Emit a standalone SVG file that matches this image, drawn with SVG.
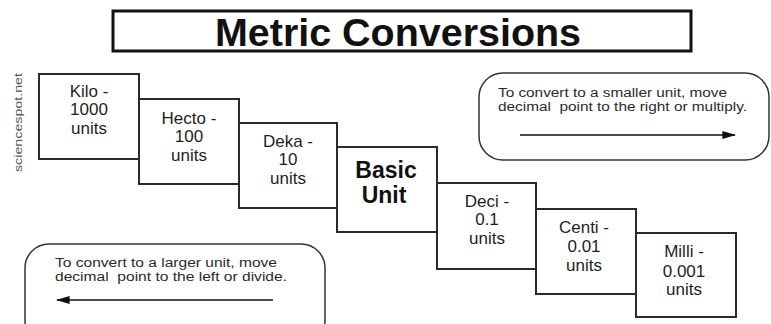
<svg xmlns="http://www.w3.org/2000/svg" width="771" height="324" viewBox="0 0 771 324">
<defs>
<style>
.box{fill:#fff;stroke:#2a2a2a;stroke-width:2}
.lbl{font-family:"Liberation Sans",Arial,sans-serif;font-size:17px;fill:#1e1e1e;text-anchor:middle}
.big{font-family:"Liberation Sans",Arial,sans-serif;font-size:23px;font-weight:bold;fill:#111;text-anchor:middle}
.note{font-family:"Liberation Sans",Arial,sans-serif;font-size:12.5px;fill:#2a2a2a}
.call{fill:#fff;stroke:#333;stroke-width:1.5}
.arr{stroke:#111;stroke-width:1.5;fill:none}
</style>
<marker id="ah" viewBox="0 0 10 10" refX="9" refY="5" markerWidth="14" markerHeight="8" markerUnits="userSpaceOnUse" orient="auto" preserveAspectRatio="none">
<path d="M0,0 L10,5 L0,10 Z" fill="#111"/>
</marker>
</defs>
<rect width="771" height="324" fill="#fff"/>
<g id="title">
<rect x="113" y="11" width="578" height="40" fill="#fff" stroke="#111" stroke-width="3"/>
<text x="398" y="46" font-family="'Liberation Sans',Arial,sans-serif" font-size="38" font-weight="bold" fill="#111" text-anchor="middle" textLength="366" lengthAdjust="spacingAndGlyphs">Metric Conversions</text>
</g>
<g id="credit">
<text transform="translate(22,172) rotate(-90)" font-family="'Liberation Sans',Arial,sans-serif" font-size="11.5" fill="#555" textLength="99" lengthAdjust="spacingAndGlyphs">sciencespot.net</text>
</g>
<g id="kilo">
<rect class="box" x="39" y="74" width="100" height="85"/>
<text class="lbl" x="89" y="97">Kilo -</text>
<text class="lbl" x="89" y="115">1000</text>
<text class="lbl" x="89" y="134">units</text>
</g>
<g id="hecto">
<rect class="box" x="139" y="99" width="100" height="85"/>
<text class="lbl" x="189" y="124">Hecto -</text>
<text class="lbl" x="189" y="142">100</text>
<text class="lbl" x="189" y="161">units</text>
</g>
<g id="deka">
<rect class="box" x="239" y="123" width="98" height="85"/>
<text class="lbl" x="288" y="147">Deka -</text>
<text class="lbl" x="288" y="165">10</text>
<text class="lbl" x="288" y="184">units</text>
</g>
<g id="basic">
<rect class="box" x="337" y="147" width="100" height="85"/>
<text class="big" x="386" y="178">Basic</text>
<text class="big" x="384" y="203">Unit</text>
</g>
<g id="deci">
<rect class="box" x="437" y="183" width="99" height="86"/>
<text class="lbl" x="487" y="207">Deci -</text>
<text class="lbl" x="487" y="225">0.1</text>
<text class="lbl" x="487" y="244">units</text>
</g>
<g id="centi">
<rect class="box" x="536" y="209" width="100" height="85"/>
<text class="lbl" x="584" y="233">Centi -</text>
<text class="lbl" x="584" y="252">0.01</text>
<text class="lbl" x="584" y="271">units</text>
</g>
<g id="milli">
<rect class="box" x="636" y="233" width="100" height="84"/>
<text class="lbl" x="684" y="257">Milli -</text>
<text class="lbl" x="684" y="277">0.001</text>
<text class="lbl" x="684" y="295">units</text>
</g>
<g id="note-smaller">
<rect class="call" x="479" y="73" width="290" height="87" rx="24"/>
<text class="note" x="498" y="97" textLength="229" lengthAdjust="spacingAndGlyphs">To convert to a smaller unit, move</text>
<text class="note" x="498" y="111" textLength="249" lengthAdjust="spacingAndGlyphs" xml:space="preserve">decimal  point to the right or multiply.</text>
</g>
<g id="note-larger">
<rect class="call" x="25" y="244" width="300" height="100" rx="24"/>
<text class="note" x="55" y="267" textLength="222" lengthAdjust="spacingAndGlyphs">To convert to a larger unit, move</text>
<text class="note" x="55" y="281" textLength="232" lengthAdjust="spacingAndGlyphs" xml:space="preserve">decimal  point to the left or divide.</text>
</g>
<g id="connectors">
<line class="arr" x1="520" y1="135" x2="735" y2="135" marker-end="url(#ah)"/>
<line class="arr" x1="273" y1="300" x2="57" y2="300" marker-end="url(#ah)"/>
</g>
</svg>
